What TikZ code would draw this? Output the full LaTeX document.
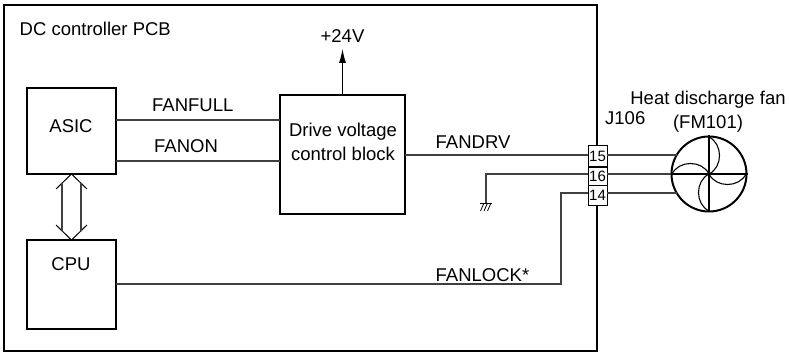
\documentclass[tikz,border=0pt]{standalone}
\usepackage{fontspec}
\setmainfont{Liberation Sans}
\usetikzlibrary{arrows.meta}
\tikzset{
  x=1pt,y=-1pt,
  block/.style={draw,line width=1.4pt,inner sep=0pt},
  outer/.style={draw,line width=2pt,inner sep=0pt},
  lbl/.style={inner sep=0pt,font=\fontsize{18.5}{24}\selectfont},
  wire/.style={line width=1.1pt,draw=black!75},
  pin/.style={draw,line width=0.9pt,fill=white,inner sep=0pt,minimum width=19pt,font=\fontsize{15}{15}\selectfont},
}
\begin{document}
\begin{tikzpicture}
\useasboundingbox (0,0) rectangle (789,352);
\node[outer,minimum width=593pt,minimum height=346pt] (pcb) at (300.75,178) {};
\node[block,minimum width=89pt,minimum height=86pt] (asic) at (71.5,131) {};
\node[lbl] at (71,126) {ASIC};
\node[block,minimum width=89pt,minimum height=89pt] (cpu) at (71.5,284.5) {};
\node[lbl] at (71,264) {CPU};
\node[block,minimum width=125pt,minimum height=119pt] (drive) at (342.5,154.5) {};
\node[lbl,align=center] at (343,142) {Drive voltage\\control block};
\node[lbl,anchor=west] at (19.5,29) {DC controller PCB};
\node[lbl] (v24) at (342.5,36) {+24V};
\coordinate (vtip) at (342.5,49);
\draw[line width=1pt,-{Latex[length=14pt,width=7pt]}] (drive.north) -- (vtip);
\node[lbl,anchor=west] at (152,105) {FANFULL};
\node[lbl,anchor=west] at (154,146) {FANON};
\node[lbl,anchor=west] at (435.5,142) {FANDRV};
\node[lbl,anchor=west] at (435.5,275) {FANLOCK*};
\node[lbl,anchor=west] at (605,118) {J106};
\node[lbl] at (708,100) {Heat discharge fan};
\node[lbl] at (708,124) {(FM101)};
\node[pin,minimum height=21pt] (c15) at (597.5,156) {15};
\node[pin,minimum height=18pt] (c16) at (597.5,176) {16};
\node[pin,minimum height=20pt] (c14) at (597.5,195) {14};
\node[draw,circle,line width=2pt,minimum size=75pt,inner sep=0pt] (fan) at (709,174) {};
\foreach \r in {0,90,180,270}{
  \draw[line width=1.1pt,shift={(709,174)},rotate=\r] (0,-37) .. controls (14,-30) and (14,-7) .. (0,0);
}
\draw[line width=1.3pt] (fan.north) -- (fan.south);
\draw[line width=1.3pt] (fan.west) -- (fan.east);
% wires
\coordinate (af) at (116,120); \coordinate (dff) at (280,120);
\coordinate (an) at (116,161); \coordinate (dn) at (280,161);
\draw[wire] (af) -- (dff);
\draw[wire] (an) -- (dn);
\coordinate (dv) at (405,155); \coordinate (p15) at (588,155);
\draw[wire] (dv) -- (p15);
\coordinate (g0) at (486,174); \coordinate (g1) at (486,203); \coordinate (p16) at (588,174);
\draw[wire] (p16) -- (g0) -- (g1);
\draw[line width=0.9pt] (480,203) -- (492,203);
\foreach \dx in {-2,1.5,5}{\draw[line width=0.8pt] (486+\dx,203) -- (486+\dx-3.5,211);}
\coordinate (cl) at (116,284); \coordinate (k1) at (561,284); \coordinate (k2) at (561,193); \coordinate (p14) at (588,193);
\draw[wire] (cl) -- (k1) -- (k2) -- (p14);
\coordinate (f15) at (677.3,155); \coordinate (f14) at (677.3,193);
\coordinate (o15) at (607,155); \coordinate (o16) at (607,174); \coordinate (o14) at (607,193);
\draw[wire] (o15) -- (f15);
\draw[wire] (o16) -- (fan.west);
\draw[wire] (o14) -- (f14);
% double arrow
\coordinate (ta) at (71.5,174); \coordinate (tb) at (71.5,240);
\draw[line width=1pt] (56,189) -- (ta) -- (87,189);
\draw[line width=1pt] (56,225) -- (tb) -- (87,225);
\draw[wire] (62,183) -- (62,231);
\draw[wire] (81,183) -- (81,231);
\end{tikzpicture}
\end{document}
